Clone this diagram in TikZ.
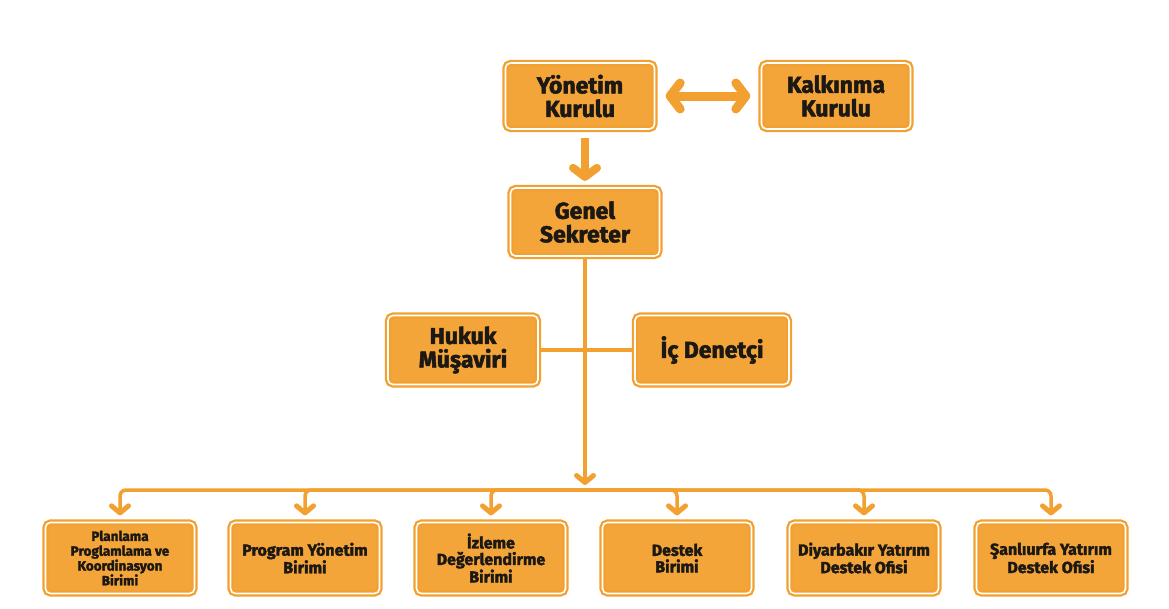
\documentclass[tikz,border=0pt]{standalone}
\usepackage{fontspec}
\setmainfont{Fira Sans}[BoldFeatures={FakeBold=2.2}]
\usetikzlibrary{arrows.meta}
\definecolor{bfill}{RGB}{244,165,58}
\definecolor{bline}{RGB}{242,160,48}
\definecolor{btext}{RGB}{28,24,20}
\tikzset{
  box/.style={draw=bline, line width=2.3pt, double=white, double distance=1.6pt,
    fill=bfill, rounded corners=5pt, align=center, text=btext, inner sep=2pt,
    font=\bfseries},
  topbox/.style={box, minimum width=149pt, minimum height=66pt,
    font=\fontsize{23}{23.5}\selectfont\bfseries},
  botbox/.style={box, minimum width=149pt, minimum height=71pt,
    font=\fontsize{16}{16.5}\selectfont\bfseries},
  smallbox/.style={botbox, font=\fontsize{13.5}{14.8}\selectfont\bfseries},
  conn/.style={draw=bline, line width=3.5pt},
  dropbarb/.style={-{Straight Barb[length=7pt, width=17pt, line width=5pt, line cap=round, line join=round]}},
  bigarrow/.style={draw=bline, line width=8pt,
    -{Straight Barb[length=9pt, width=24pt, line cap=round, line join=round]}},
  dblarrow/.style={draw=bline, line width=9pt,
    {Straight Barb[length=10pt, width=26pt, line cap=round, line join=round]}-{Straight Barb[length=10pt, width=26pt, line cap=round, line join=round]}}
}
\begin{document}
\begin{tikzpicture}[x=1pt,y=-1pt]
\useasboundingbox[fill=white] (0,0) rectangle (1169,608);

\node[topbox] (yk) at (580,96) {Yönetim\\Kurulu};
\node[topbox] (kk) at (836,96) {Kalkınma\\Kurulu};
\node[topbox, minimum height=68pt] (gs) at (585,222) {Genel\\Sekreter};
\node[topbox, minimum width=150pt, minimum height=69pt] (hm) at (463,350) {Hukuk\\Müşaviri};
\node[topbox, minimum width=154pt, minimum height=69pt] (id) at (712,350) {İç Denetçi};

\node[smallbox] (b1) at (120,558) {Planlama\\Proglamlama ve\\Koordinasyon\\Birimi};
\node[botbox] (b2) at (305,558) {Program Yönetim\\Birimi};
\node[botbox] (b3) at (491,558) {İzleme\\Değerlendirme\\Birimi};
\node[botbox] (b4) at (677,558) {Destek\\Birimi};
\node[botbox] (b5) at (864,558) {Diyarbakır Yatırım\\Destek Ofisi};
\node[botbox] (b6) at (1051,558) {Şanlıurfa Yatırım\\Destek Ofisi};

\coordinate (j) at (585,490);

% top connectors
\draw[dblarrow, shorten <=10pt, shorten >=10pt] (yk) -- (kk);
\draw[bigarrow, shorten <=8pt, shorten >=6pt] (yk.south -| gs.north) -- (gs.north);

% staff line
\draw[conn] (hm) -- (id);

% main vertical
\draw[conn, dropbarb, shorten >=5pt] (gs) -- (j);

% bus with drops
\foreach \b in {b1,b2,b3,b4,b5,b6}{
  \draw[conn, dropbarb, rounded corners=6pt, shorten >=6pt] (j) -| (\b);
}
\end{tikzpicture}
\end{document}
